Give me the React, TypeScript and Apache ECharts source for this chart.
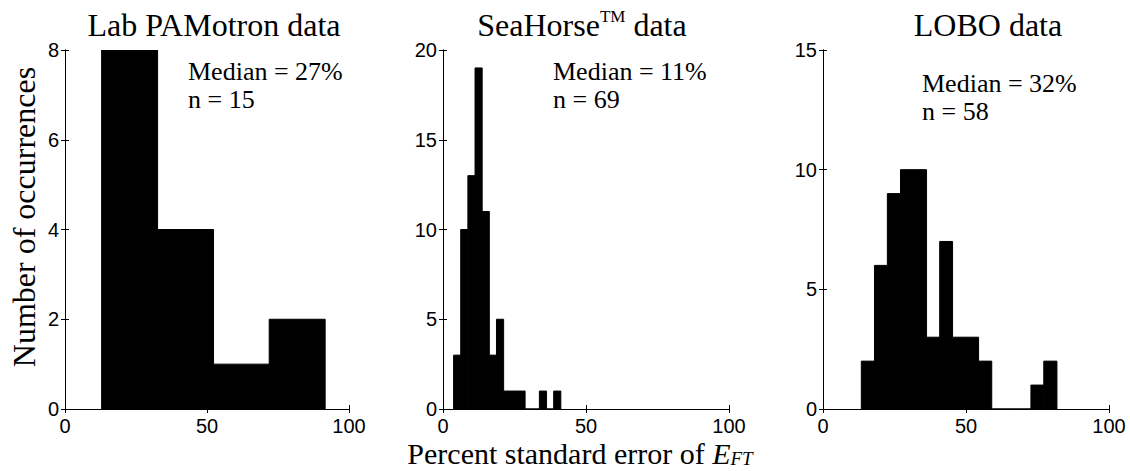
import React, { useEffect, useRef } from "react";
import * as echarts from "echarts";

// Histogram bin edges (percent) and counts for each data set
const labEdges = [12.9, 32.6, 52.3, 71.9, 91.6];
const labCounts = [8, 4, 1, 2];

const seaHorseEdges = [3.7, 6.2, 8.7, 11.2, 13.7, 16.2, 18.7, 21.2, 23.7, 26.2, 28.7, 31.2, 33.7, 36.2, 38.7, 41.2];
const seaHorseCounts = [3, 10, 13, 19, 11, 3, 5, 1, 1, 1, 0, 0, 1, 0, 1];

const loboEdges = [13.4, 18.0, 22.5, 27.1, 31.6, 36.2, 40.8, 45.3, 49.9, 54.4, 59.0, 63.6, 68.1, 72.7, 77.2, 81.8];
const loboCounts = [2, 6, 9, 10, 10, 3, 7, 3, 3, 2, 0, 0, 0, 1, 2];

const yMax = [8, 20, 15];
const yStep = [2, 5, 5];
const xTicks = { min: 0, max: 100, step: 50 };

const medians = ["Median = 27%", "Median = 11%", "Median = 32%"];
const counts = ["n = 15", "n = 69", "n = 58"];

const SERIF = "'Liberation Serif', 'Times New Roman', serif";
const SANS = "'Liberation Sans', Arial, Helvetica, sans-serif";

const grids = [
  { left: 65, top: 50, width: 284, height: 359 },
  { left: 443, top: 50, width: 286, height: 359 },
  { left: 823, top: 50, width: 286, height: 359 },
];

function toBins(edges: number[], values: number[]) {
  return values.map((v, i) => [edges[i], edges[i + 1], v]);
}

export default function App() {
  const ref = useRef<HTMLDivElement>(null);

  useEffect(() => {
    if (!ref.current) return;
    const chart = echarts.init(ref.current, null, { renderer: "svg" });
    const datasets = [
      toBins(labEdges, labCounts),
      toBins(seaHorseEdges, seaHorseCounts),
      toBins(loboEdges, loboCounts),
    ];

    const xAxes: any[] = [];
    const yAxes: any[] = [];
    grids.forEach((_, i) => {
      const line = { show: true, lineStyle: { color: "#000", width: 1 } };
      const tick = { show: true, inside: true, length: 4, lineStyle: { color: "#000", width: 1 } };
      xAxes.push({
        type: "value", gridIndex: i, position: "bottom",
        min: xTicks.min, max: xTicks.max, interval: xTicks.step,
        axisLine: line, axisTick: tick, splitLine: { show: false },
        axisLabel: { color: "#000", fontFamily: SANS, fontSize: 20, margin: 7 },
      });
      xAxes.push({
        type: "value", gridIndex: i, position: "top",
        min: xTicks.min, max: xTicks.max, interval: xTicks.step,
        axisLine: line, axisTick: tick, splitLine: { show: false },
        axisLabel: { show: false },
      });
      yAxes.push({
        type: "value", gridIndex: i, position: "left",
        min: 0, max: yMax[i], interval: yStep[i],
        axisLine: line, axisTick: tick, splitLine: { show: false },
        axisLabel: { color: "#000", fontFamily: SANS, fontSize: 20, margin: 6 },
      });
      yAxes.push({
        type: "value", gridIndex: i, position: "right",
        min: 0, max: yMax[i], interval: yStep[i],
        axisLine: line, axisTick: tick, splitLine: { show: false },
        axisLabel: { show: false },
      });
    });

    const series = datasets.map((data, i) => ({
      type: "custom",
      xAxisIndex: i * 2,
      yAxisIndex: i * 2,
      data,
      encode: { x: [0, 1], y: 2 },
      clip: true,
      renderItem: (_params: any, api: any) => {
        const x0 = api.value(0);
        const x1 = api.value(1);
        const c = api.value(2);
        const pTop = api.coord([x0, c]);
        const pBot = api.coord([x1, 0]);
        return {
          type: "rect",
          shape: { x: pTop[0], y: pTop[1], width: pBot[0] - pTop[0], height: pBot[1] - pTop[1] },
          style: { fill: "#000", stroke: "#000", lineWidth: 1 },
        };
      },
    }));

    const annX = [188, 553, 922];
    const annY = [57, 57, 69];
    const annotations = annX.map((x, i) => ({
      type: "text",
      x,
      y: annY[i],
      style: {
        text: medians[i] + "\n" + counts[i],
        font: `26px ${SERIF}`,
        fill: "#000",
        lineHeight: 28,
        align: "left",
        verticalAlign: "top",
      },
      z: 10,
    }));

    chart.setOption({
      animation: false,
      backgroundColor: "#fff",
      grid: grids.map((g) => ({ ...g, containLabel: false })),
      xAxis: xAxes,
      yAxis: yAxes,
      series,
      graphic: [
        {
          type: "text", x: 214, y: 25,
          style: { text: "Lab PAMotron data", font: `32px ${SERIF}`, fill: "#000", align: "center", verticalAlign: "middle" },
        },
        {
          type: "text", x: 582, y: 25,
          style: {
            text: "{a|SeaHorse}{s|TM}{a| data}",
            align: "center", verticalAlign: "middle",
            rich: {
              a: { fontFamily: SERIF, fontSize: 32, lineHeight: 34, fill: "#000", color: "#000" },
              s: { fontFamily: SERIF, fontSize: 17, lineHeight: 18, verticalAlign: "top", fill: "#000", color: "#000" },
            },
          },
        },
        {
          type: "text", x: 988, y: 25,
          style: { text: "LOBO data", font: `32px ${SERIF}`, fill: "#000", align: "center", verticalAlign: "middle" },
        },
        {
          type: "text", x: 24, y: 217, rotation: Math.PI / 2,
          style: { text: "Number of occurrences", font: `32px ${SERIF}`, fill: "#000", align: "center", verticalAlign: "middle" },
        },
        {
          type: "text", x: 580, y: 453,
          style: {
            text: "{a|Percent standard error of }{e|E}{s|FT}",
            align: "center", verticalAlign: "middle",
            rich: {
              a: { fontFamily: SERIF, fontSize: 30, lineHeight: 30, fill: "#000", color: "#000" },
              e: { fontFamily: SERIF, fontStyle: "italic", fontSize: 30, lineHeight: 30, fill: "#000", color: "#000" },
              s: { fontFamily: SERIF, fontStyle: "italic", fontSize: 19, lineHeight: 20, verticalAlign: "bottom", fill: "#000", color: "#000" },
            },
          },
        },
        ...annotations,
      ],
    });

    return () => chart.dispose();
  }, []);

  return (
    <div
      ref={ref}
      style={{ position: "absolute", left: 0, top: 0, width: 1130, height: 471, background: "#fff" }}
    />
  );
}
